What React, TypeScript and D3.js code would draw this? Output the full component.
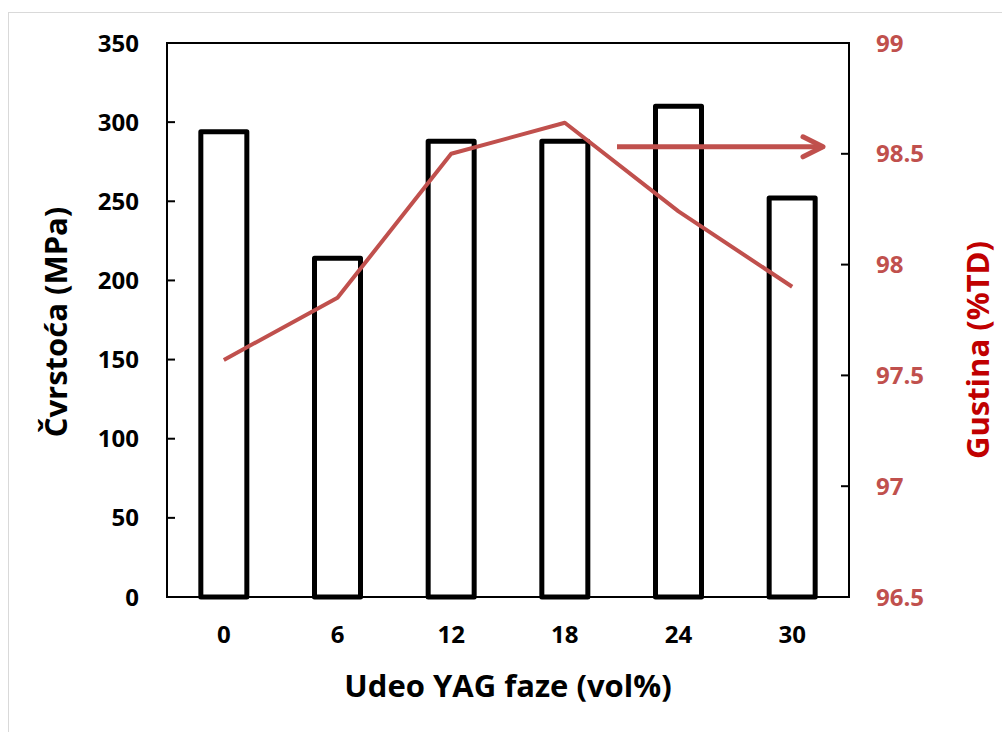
import React from "react";
import * as d3 from "d3";

const categories = ["0", "6", "12", "18", "24", "30"];
const strength = [294, 214, 288, 288, 310, 252];
const density = [97.57, 97.85, 98.5, 98.64, 98.24, 97.9];
const leftTicks = [0, 50, 100, 150, 200, 250, 300, 350];
const rightTicks = [96.5, 97, 97.5, 98, 98.5, 99];

const W = 1002, H = 732;
const M = { left: 167, right: 849, top: 43, bottom: 597 };
const FONT = "'Open Sans', 'Noto Sans', sans-serif";
const RED = "#C0504D";

export default function App() {
  const xc = d3.scalePoint().domain(categories).range([M.left, M.right]).padding(0.5);
  const yL = d3.scaleLinear().domain([0, 350]).range([M.bottom, M.top]);
  const yR = d3.scaleLinear().domain([96.5, 99]).range([M.bottom, M.top]);
  const bw = 46;
  const line = d3.line<number>().x((_, i) => xc(categories[i])!).y((d) => yR(d));
  const arrowY = yR(98.5) - 7;
  const tip = 823;
  return (
    <svg width={W} height={H} style={{ display: "block", position: "absolute", left: 0, top: 0 }}>
      <rect x={0} y={0} width={W} height={H} fill="#fff" />
      <rect x={8.5} y={12.5} width={1000} height={730} fill="none" stroke="#d9d9d9" strokeWidth={1} />
      {strength.map((v, i) => (
        <rect key={i} x={xc(categories[i])! - bw / 2} y={yL(v)} width={bw} height={yL(0) - yL(v)}
          fill="#fff" stroke="#000" strokeWidth={5} strokeLinejoin="round" />
      ))}
      <rect x={M.left} y={M.top} width={M.right - M.left} height={M.bottom - M.top} fill="none" stroke="#000" strokeWidth={2} />
      {leftTicks.map((t) => (
        <g key={t}>
          <line x1={M.left} x2={M.left + 8} y1={yL(t)} y2={yL(t)} stroke="#000" strokeWidth={2} />
          <text x={139} y={yL(t)} dy="0.36em" textAnchor="end" fontFamily={FONT} fontWeight="bold" fontSize={24} fill="#000">{t}</text>
        </g>
      ))}
      {rightTicks.map((t) => (
        <g key={t}>
          <line x1={M.right - 8} x2={M.right} y1={yR(t)} y2={yR(t)} stroke="#000" strokeWidth={2} />
          <text x={876} y={yR(t)} dy="0.36em" textAnchor="start" fontFamily={FONT} fontWeight="bold" fontSize={24} fill={RED}>{t}</text>
        </g>
      ))}
      {categories.map((c) => (
        <text key={c} x={xc(c)} y={643} textAnchor="middle" fontFamily={FONT} fontWeight="bold" fontSize={24} fill="#000">{c}</text>
      ))}
      <path d={line(density)!} fill="none" stroke={RED} strokeWidth={4} strokeLinejoin="round" />
      <line x1={617} x2={tip} y1={arrowY} y2={arrowY} stroke={RED} strokeWidth={5} />
      <polyline points={`${tip - 20},${arrowY - 10} ${tip},${arrowY} ${tip - 20},${arrowY + 10}`} fill="none" stroke={RED} strokeWidth={5} strokeLinecap="round" strokeLinejoin="round" />
      <text x={508} y={697} textAnchor="middle" fontFamily={FONT} fontWeight="bold" fontSize={31} fill="#000">Udeo YAG faze (vol%)</text>
      <text transform={`translate(67,322) rotate(-90)`} textAnchor="middle" fontFamily={FONT} fontWeight="bold" fontSize={31} fill="#000">Čvrstoća (MPa)</text>
      <text transform={`translate(989,350) rotate(-90)`} textAnchor="middle" fontFamily={FONT} fontWeight="bold" fontSize={31} fill="#C00000">Gustina (%TD)</text>
    </svg>
  );
}
